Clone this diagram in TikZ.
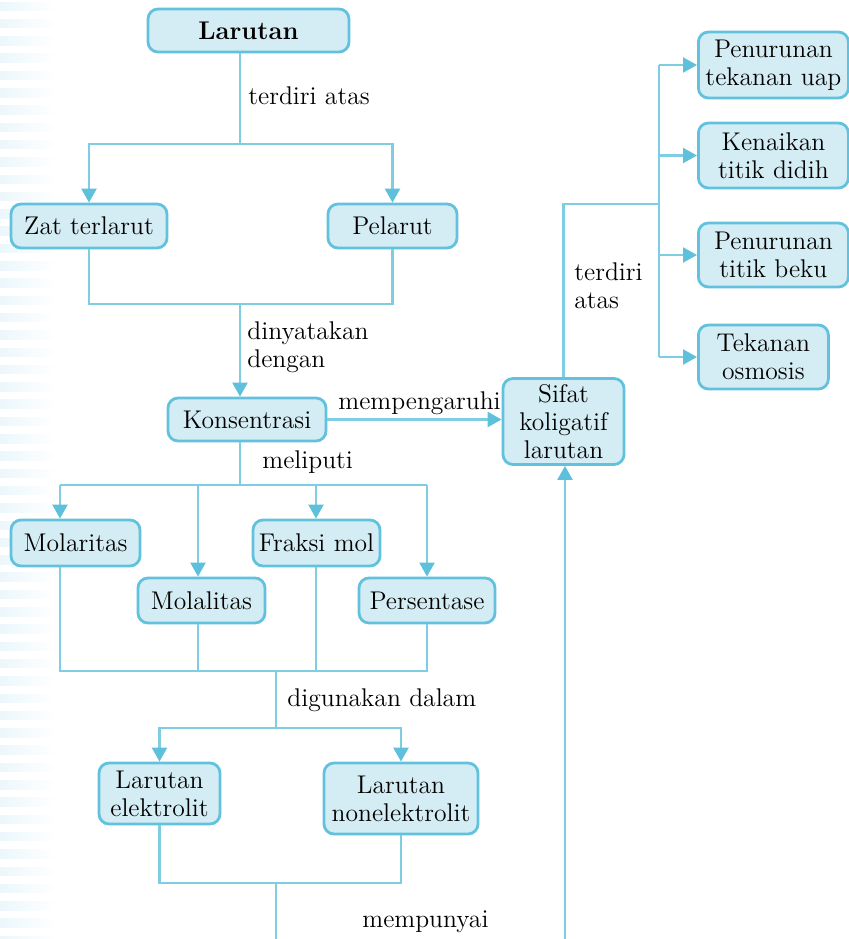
\documentclass[tikz,border=0pt]{standalone}
\usetikzlibrary{arrows.meta}

\definecolor{boxfill}{RGB}{212,236,243}
\definecolor{boxline}{RGB}{98,194,221}
\definecolor{linkblue}{RGB}{126,205,226}
\definecolor{tipblue}{RGB}{95,192,220}
\definecolor{stripeblue}{RGB}{236,247,251}

\begin{document}
\begin{tikzpicture}[x=0.5pt, y=-0.5pt,
    block/.style={rectangle, draw=boxline, line width=1.4pt, fill=boxfill, rounded corners=5pt,
      inner sep=2pt, align=center, font=\fontsize{12.8}{14}\selectfont},
    lbl/.style={anchor=west, inner sep=0pt, align=left, font=\fontsize{12.8}{14}\selectfont},
    line/.style={draw=linkblue, line width=1.2pt},
    arrow/.style={line, -{Triangle[width=7.5pt, length=7pt, color=tipblue]}},
    stripe/.style={left color=stripeblue, right color=white, draw=none}
]
\useasboundingbox (0,0) rectangle (848,939);

% Stripes
\foreach \i in {0,...,54}
  \shade[stripe] (0,\i*17.3+2) rectangle (56,\i*17.3+10.5);

% Nodes
\node[block, minimum width=100.5pt, minimum height=21.5pt] (larutan) at (248.5,30.5) {\bfseries Larutan};
\node[block, minimum width=78pt, minimum height=22pt] (zat) at (89,226) {Zat terlarut};
\node[block, minimum width=64.5pt, minimum height=22pt] (pelarut) at (392.5,226) {Pelarut};
\node[block, minimum width=79pt, minimum height=21.5pt] (konsentrasi) at (247,419.5) {Konsentrasi};
\node[block, minimum width=60.5pt, minimum height=43pt] (sifat) at (563.5,421.5) {Sifat\\koligatif\\larutan};

\node[block, anchor=west, minimum width=75pt, minimum height=33pt] (uap) at (697,65) {Penurunan\\tekanan uap};
\node[block, anchor=west, minimum width=75pt, minimum height=32.5pt] (didih) at (697,155.5) {Kenaikan\\titik didih};
\node[block, anchor=west, minimum width=75pt, minimum height=32pt] (beku) at (697,255) {Penurunan\\titik beku};
\node[block, anchor=west, minimum width=65pt, minimum height=32pt] (osmosis) at (697,357) {Tekanan\\osmosis};

\node[block, minimum width=64.5pt, minimum height=23pt] (molaritas) at (75.5,543) {Molaritas};
\node[block, minimum width=63.5pt, minimum height=22.5pt] (molalitas) at (201.5,600.5) {Molalitas};
\node[block, minimum width=63.5pt, minimum height=23pt] (fraksi) at (316.5,543) {Fraksi mol};
\node[block, minimum width=68pt, minimum height=22.5pt] (persentase) at (427,600.5) {Persentase};

\node[block, minimum width=60.5pt, minimum height=30.5pt] (elektrolit) at (159.5,793.5) {Larutan\\elektrolit};
\node[block, minimum width=77pt, minimum height=35.5pt] (nonelektrolit) at (401,798.5) {Larutan\\nonelektrolit};

% Labels
\node[lbl] (terdiri) at (248,96) {terdiri atas};
\node[lbl] (dinyatakan) at (247,347) {dinyatakan\\dengan};
\node[lbl] (mempengaruhi) at (338,403) {mempengaruhi};
\node[lbl] (meliputi) at (262,462) {meliputi};
\node[lbl] (digunakan) at (287,700) {digunakan dalam};
\node[lbl] (mempunyai) at (362,922) {mempunyai};
\node[lbl] (terdiri2) at (574,286) {terdiri\\atas};

% Junctions
\coordinate (s1) at (240,144);
\coordinate (s2) at (240,304);
\coordinate (s3) at (659,204);
\coordinate (s4) at (240,485);
\coordinate (s5) at (276,671);
\coordinate (s6) at (276,728);
\coordinate (s7) at (276,883);
\coordinate (b1) at (60,485);
\coordinate (b2) at (198,485);
\coordinate (b3) at (316,485);
\coordinate (b4) at (427,485);
\coordinate (e1) at (276,939);
\coordinate (e2) at (565,939);

% Arrows
\draw[line] (larutan.south -| s1) -- (s1);
\draw[arrow] (s1) -| (zat.north);
\draw[arrow] (s1) -| (pelarut.north);
\draw[line] (zat.south) |- (s2) -| (pelarut.south);
\draw[arrow] (s2) -- (konsentrasi.north -| s2);

\draw[arrow] (konsentrasi.east) -- (sifat.west |- konsentrasi.east);
\draw[line] (sifat.north) |- (s3);
\draw[line] (uap.west -| s3) -- (osmosis.west -| s3);
\foreach \n in {uap, didih, beku, osmosis}
  \draw[arrow] (\n.west -| s3) -- (\n.west);

\draw[line] (konsentrasi.south -| s4) -- (s4);
\draw[line] (b1) -- (b4);
\draw[arrow] (b1) -- (molaritas.north -| b1);
\draw[arrow] (b2) -- (molalitas.north -| b2);
\draw[arrow] (b3) -- (fraksi.north -| b3);
\draw[arrow] (b4) -- (persentase.north -| b4);
\draw[line] (molaritas.south -| b1) -- (b1 |- s5) -- (b4 |- s5) -- (persentase.south -| b4);
\draw[line] (molalitas.south -| b2) -- (b2 |- s5);
\draw[line] (fraksi.south -| b3) -- (b3 |- s5);

\draw[line] (s5) -- (s6);
\draw[arrow] (s6) -| (elektrolit.north);
\draw[arrow] (s6) -| (nonelektrolit.north);
\draw[line] (elektrolit.south) |- (s7) -| (nonelektrolit.south);
\draw[line] (s7) -- (e1);
\draw[arrow] (e2) -- (sifat.south -| e2);

\end{tikzpicture}
\end{document}
